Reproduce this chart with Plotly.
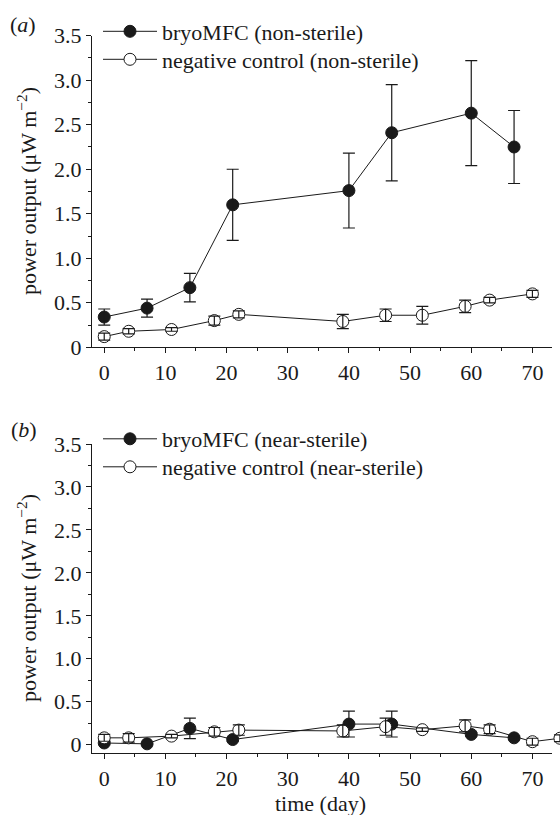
import plotly.graph_objects as go

# ---------------- data ----------------
# panel (a) non-sterile
a_bryo_day = [0, 7, 14, 21, 40, 47, 60, 67]
a_bryo_val = [0.34, 0.44, 0.67, 1.60, 1.76, 2.41, 2.63, 2.25]
a_bryo_err = [0.09, 0.10, 0.16, 0.40, 0.42, 0.54, 0.59, 0.41]

a_ctrl_day = [0, 4, 11, 18, 22, 39, 46, 52, 59, 63, 70]
a_ctrl_val = [0.12, 0.18, 0.20, 0.30, 0.37, 0.29, 0.36, 0.36, 0.46, 0.53, 0.60]
a_ctrl_err = [0.04, 0.03, 0.02, 0.05, 0.04, 0.08, 0.07, 0.10, 0.07, 0.03, 0.04]

# panel (b) near-sterile
b_bryo_day = [0, 7, 14, 21, 40, 47, 60, 67]
b_bryo_val = [0.02, 0.01, 0.19, 0.06, 0.24, 0.24, 0.12, 0.08]
b_bryo_err = [0.02, 0.01, 0.12, 0.02, 0.15, 0.15, 0.02, 0.02]

b_ctrl_day = [0, 4, 11, 18, 22, 39, 46, 52, 59, 63, 70, 74.5]
b_ctrl_val = [0.08, 0.08, 0.10, 0.15, 0.17, 0.16, 0.21, 0.175, 0.22, 0.18, 0.035, 0.075]
b_ctrl_err = [0.04, 0.05, 0.02, 0.05, 0.06, 0.07, 0.10, 0.02, 0.07, 0.05, 0.04, 0.04]

x_ticks = [0, 10, 20, 30, 40, 50, 60, 70]
y_ticks = [0, 0.5, 1.0, 1.5, 2.0, 2.5, 3.0, 3.5]
y_tick_text = ["0", "0.5", "1.0", "1.5", "2.0", "2.5", "3.0", "3.5"]

legend_a = ["bryoMFC (non-sterile)", "negative control (non-sterile)"]
legend_b = ["bryoMFC (near-sterile)", "negative control (near-sterile)"]

# ---------------- style ----------------
FONT = "Liberation Serif, Times New Roman, serif"
FS = 22
INK = "#1a1a1a"
W, H = 560, 815
ML, MR = 92, 0
PLOT_W = W - ML - MR          # 468 px
AX_W = 460                    # visible axis length
X0, X1 = -2, 73.2             # visible axis range
X1_FULL = X0 + (X1 - X0) * PLOT_W / AX_W   # same scale, full width

fig = go.Figure()


def add_series(days, vals, name, filled, xa, ya, legend):
    fig.add_trace(go.Scatter(
        x=days, y=vals, mode="lines+markers", name=name,
        xaxis=xa, yaxis=ya, legend=legend,
        line=dict(color=INK, width=1),
        marker=dict(symbol="circle", size=12,
                    color=INK if filled else "white",
                    line=dict(color=INK, width=1)),
    ))


def add_err(days, vals, errs, xa, ya):
    fig.add_trace(go.Scatter(
        x=days, y=vals, mode="markers", showlegend=False,
        xaxis=xa, yaxis=ya, cliponaxis=False, hoverinfo="skip",
        marker=dict(size=1, color="rgba(0,0,0,0)"),
        error_y=dict(type="data", array=errs, visible=True,
                     color=INK, thickness=1.2, width=6),
    ))


add_series(a_bryo_day, a_bryo_val, legend_a[0], True, "x", "y", "legend")
add_series(a_ctrl_day, a_ctrl_val, legend_a[1], False, "x", "y", "legend3")
add_err(a_bryo_day, a_bryo_val, a_bryo_err, "x", "y")
add_err(a_ctrl_day, a_ctrl_val, a_ctrl_err, "x", "y")

add_series(b_bryo_day, b_bryo_val, legend_b[0], True, "x2", "y2", "legend2")
add_err(b_bryo_day, b_bryo_val, b_bryo_err, "x2", "y2")
add_series(b_ctrl_day, b_ctrl_val, legend_b[1], False, "x3", "y2", "legend4")
add_err(b_ctrl_day, b_ctrl_val, b_ctrl_err, "x3", "y2")


def py(p):
    return 1 - p / H


def px(p):
    return (p - ML) / PLOT_W


xaxis_common = dict(
    range=[X0, X1], tickvals=x_ticks, ticktext=[str(v) for v in x_ticks],
    showline=True, linecolor=INK, linewidth=1.2, mirror=False,
    ticks="outside", ticklen=5, tickwidth=1.2, tickcolor=INK,
    minor=dict(dtick=5, tick0=0, ticks="outside", ticklen=3, tickwidth=1.2, tickcolor=INK),
    showgrid=False, zeroline=False, fixedrange=True,
    tickfont=dict(family=FONT, size=FS, color=INK),
)
yaxis_common = dict(
    tickvals=y_ticks, ticktext=y_tick_text,
    showline=True, linecolor=INK, linewidth=1.2,
    ticks="outside", ticklen=5, tickwidth=1.2, tickcolor=INK,
    minor=dict(dtick=0.25, tick0=0, ticks="outside", ticklen=3, tickwidth=1.2, tickcolor=INK),
    showgrid=False, zeroline=False, fixedrange=True,
    tickfont=dict(family=FONT, size=FS, color=INK),
)


def leg(ycenter):
    return dict(x=px(98), y=py(ycenter), xanchor="left", yanchor="middle",
                bgcolor="rgba(0,0,0,0)", font=dict(family=FONT, size=FS, color=INK),
                itemwidth=54, tracegroupgap=0)


fig.update_layout(
    width=W, height=H,
    margin=dict(l=ML, r=MR, t=0, b=0, autoexpand=False),
    paper_bgcolor="white", plot_bgcolor="rgba(0,0,0,0)",
    font=dict(family=FONT, size=FS, color=INK),
    xaxis=dict(**xaxis_common, domain=[0, AX_W / PLOT_W], anchor="y"),
    yaxis=dict(**yaxis_common, range=[0, 3.5], domain=[py(347.3), py(35.7)], anchor="x"),
    xaxis2=dict(**xaxis_common, domain=[0, AX_W / PLOT_W], anchor="y2"),
    yaxis2=dict(**yaxis_common, range=[-0.1, 3.5], domain=[py(753.3), py(444)], anchor="x2"),
    xaxis3=dict(range=[X0, X1_FULL], domain=[0, 1], anchor="y2", visible=False,
                showgrid=False, zeroline=False, fixedrange=True),
    legend=leg(31.5),
    legend3=leg(59.5),
    legend2=leg(439),
    legend4=leg(467),
    showlegend=True,
)

ytitle = "power output (μW m<sup>−2</sup>)"
for yc in (191, 598):
    fig.add_annotation(text=ytitle, textangle=-90, xref="paper", yref="paper",
                       x=px(27), y=py(yc), xanchor="center", yanchor="middle",
                       showarrow=False, font=dict(family=FONT, size=FS, color=INK))
fig.add_annotation(text="time (day)", xref="paper", yref="paper",
                   x=px(320), y=py(803), xanchor="center", yanchor="middle",
                   showarrow=False, font=dict(family=FONT, size=FS, color=INK))
fig.add_annotation(text="(<i>a</i>)", xref="paper", yref="paper",
                   x=px(23), y=py(24), xanchor="center", yanchor="middle",
                   showarrow=False, font=dict(family=FONT, size=FS, color=INK))
fig.add_annotation(text="(<i>b</i>)", xref="paper", yref="paper",
                   x=px(24), y=py(430), xanchor="center", yanchor="middle",
                   showarrow=False, font=dict(family=FONT, size=FS, color=INK))

fig.write_html("out.html", config={"displayModeBar": False},
               post_script="document.body.style.margin='0';")
